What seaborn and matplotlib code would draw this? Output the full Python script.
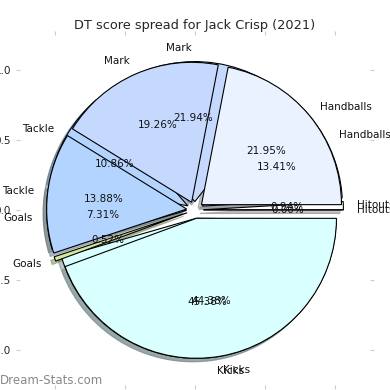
import matplotlib
matplotlib.use('Agg')
import matplotlib.pyplot as plt
import seaborn as sns

labels = ['Hitouts', 'Handballs', 'Mark', 'Tackle', 'Goals', 'Kicks']
share_a = [0.0, 21.95, 19.26, 13.88, 0.52, 44.38]
share_b = [0.94, 13.41, 21.94, 10.86, 7.31, 45.38]
colors = ['#ffffff', '#eaf1ff', '#c5d9ff', '#b3d4ff', '#d4e89c', '#d9ffff']
title = 'DT score spread for Jack Crisp (2021)'

sns.set_theme(style='white')
plt.rcParams['font.family'] = ['DejaVu Sans']

fig = plt.figure(figsize=(3.9, 3.9), dpi=100)
ax = fig.add_axes([20/390, 5/390, 350/390, 350/390])
explode = [0.06] * len(labels)
for vals in (share_b, share_a):
    ax.pie([v / 100 for v in vals], labels=labels, colors=colors, explode=explode,
           autopct='%.2f%%', startangle=0,
           shadow={'ox': -0.018, 'oy': -0.018, 'shade': 0.45},
           normalize=False, frame=True,
           wedgeprops=dict(edgecolor='black', linewidth=0.8),
           textprops=dict(fontsize=7.5, color='#111111'))
ax.set_xlim(-1.25, 1.25)
ax.set_ylim(-1.25, 1.25)
for s in ax.spines.values():
    s.set_visible(False)
ax.tick_params(which='both', direction='out', length=3, width=0.8, color='#cccccc',
               top=True, right=True, left=True, bottom=True,
               labelsize=7.5, labelcolor='#222222')
ax.set_title(title, fontsize=9.3, pad=4)
fig.text(0.0, 9/390, 'Dream-Stats.com', color='#888888', fontsize=8.5, ha='left', va='center')
fig.savefig('out.png', dpi=100)
